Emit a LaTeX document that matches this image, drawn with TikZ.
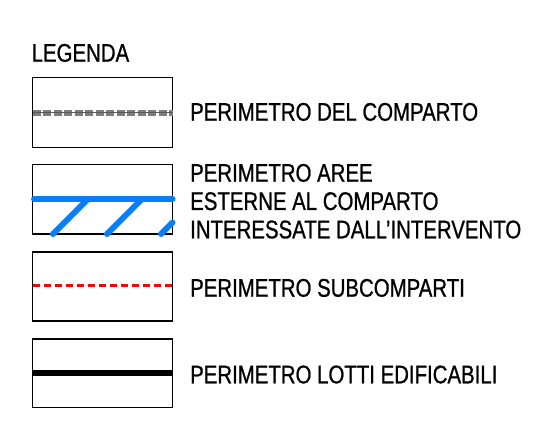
\documentclass[tikz,border=0pt]{standalone}
\usepackage{fontspec}
\setmainfont{Liberation Sans}[FakeStretch=0.8, FakeBold=0.8]
\definecolor{compartogray}{RGB}{125,125,125}
\definecolor{esterneblue}{RGB}{10,125,245}
\tikzset{
  legendbox/.style={draw=black, line width=1.8pt},
  legendtext/.style={anchor=base west, inner sep=0pt, font=\fontsize{25.5}{28}\selectfont}
}

\begin{document}
\begin{tikzpicture}[x=1pt, y=-1pt]
  \useasboundingbox (0,0) rectangle (552,422);

  % Title
  \node[legendtext] (title) at (31.5,61.7) {LEGENDA};

  % Perimetro del comparto
  \draw[legendbox] (32.5,77.5) rectangle (172.5,147.5);
  \draw[compartogray, line width=6pt, dash pattern=on 8pt off 2.5pt] (32.5,112.7) -- (172.5,112.7);
  \draw[black!65, line width=0.9pt] (32.5,112.7) -- (172.5,112.7);
  \node[legendtext] (comparto) at (190,120.7) {PERIMETRO DEL COMPARTO};

  % Perimetro aree esterne
  \draw[legendbox] (32.5,164.5) rectangle (172.5,234.3);
  \draw[esterneblue, line width=6pt, line cap=round] (34,199) -- (172.5,199);
  \foreach \x in {53,107} {
    \draw[esterneblue, line width=6pt, line cap=round] (\x,234) -- ++(35,-35);
  }
  \draw[esterneblue, line width=6pt, line cap=round] (161,234) -- (172.5,222.5);
  \node[legendtext] (aree1) at (190,181.7) {PERIMETRO AREE};
  \node[legendtext] (aree2) at (190,210) {ESTERNE AL COMPARTO};
  \node[legendtext] (aree3) at (190,238.3) {INTERESSATE DALL'INTERVENTO};

  % Perimetro subcomparti
  \draw[legendbox] (32.5,251.7) rectangle (172.5,320.7);
  \draw[red, line width=3.5pt, dash pattern=on 7.5pt off 3.5pt] (32.5,285.7) -- (172.5,285.7);
  \node[legendtext] (subcomparti) at (190,296.7) {PERIMETRO SUBCOMPARTI};

  % Perimetro lotti edificabili
  \draw[legendbox] (32.5,339) rectangle (172.5,407.5);
  \draw[black, line width=6pt] (32.5,373.3) -- (172.5,373.3);
  \node[legendtext] (lotti) at (190,383.3) {PERIMETRO LOTTI EDIFICABILI};
\end{tikzpicture}
\end{document}
